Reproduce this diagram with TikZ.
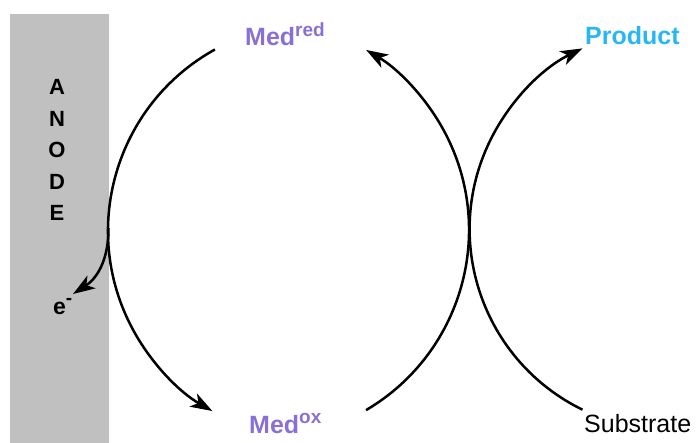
\documentclass[tikz,border=0pt]{standalone}
\usepackage{fontspec}
\setmainfont{Liberation Sans}
\usetikzlibrary{arrows.meta}
\definecolor{medcol}{RGB}{138,112,212}
\definecolor{prodcol}{RGB}{41,182,246}
\definecolor{anodegray}{RGB}{192,192,192}
\newcommand{\supx}[2]{\raisebox{#1pt}{\fontsize{19}{20}\selectfont #2}}
\tikzset{
  lab/.style={anchor=base west, inner sep=0pt, font=\fontsize{25}{30}\selectfont\bfseries},
  medlab/.style={lab, text=medcol},
  anodeletter/.style={anchor=base, inner sep=0pt, font=\fontsize{22}{24}\selectfont\bfseries},
  conn/.style={line width=2.5pt, -{Stealth[length=22pt,width=15pt,inset=6pt]}},
}
\begin{document}
\begin{tikzpicture}[x=1pt,y=1pt]
\useasboundingbox (0,0) rectangle (698,-443);
\fill[anodegray] (10,-14) rectangle (109,-443);
\foreach \l [count=\i] in {A,N,O,D,E}
  \node[anodeletter] (an\i) at (57,{-95-31.5*(\i-1)}) {\l};
\node[lab, font=\fontsize{23}{28}\selectfont\bfseries] (e) at (53,-315) {e\supx{10}{-}};
\node[medlab] (medred) at (245,-46) {Med\supx{9.5}{\bfseries red}};
\node[medlab] (medox) at (249,-433) {Med\supx{9.7}{\bfseries ox}};
\node[lab, text=prodcol] (prod) at (585,-45) {Product};
\node[lab, font=\fontsize{25}{30}\selectfont] (sub) at (584,-432) {Substrate};
% arc end points
\coordinate (l1) at (214.9,-49.5);
\coordinate (m1) at (366.1,-410.1);
\coordinate (r1) at (582.5,-409.7);
\coordinate (s1) at (108.5,-228);
\coordinate (s2) at (73,-294);
\draw[conn] (l1) arc[start angle=119, end angle=240.2, radius=207.5pt];
\draw[conn] (m1) arc[start angle=-59.5, end angle=59.5, radius=209pt];
\draw[conn] (r1) arc[start angle=244, end angle=116, radius=201pt];
\draw[conn] (s1) .. controls (108.5,-262) and (96,-279) .. (s2);
\end{tikzpicture}
\end{document}
